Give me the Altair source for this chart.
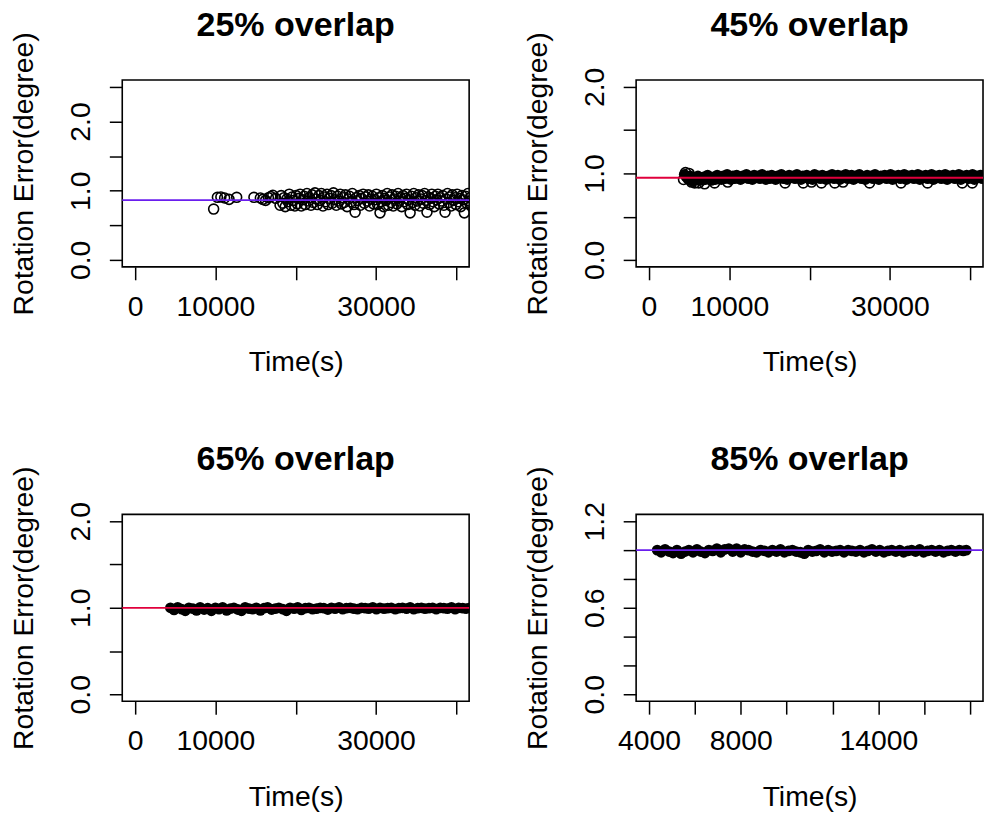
import altair as alt
import pandas as pd

FONT = "Liberation Sans"

# ---------------- data ----------------
titles = ["25% overlap", "45% overlap", "65% overlap", "85% overlap"]
mean_err = [0.865, 0.95, 1.0, 1.0]
line_colors = ["#6A1EEE", "#E0003C", "#E0003C", "#6A1EEE"]

p1_t = [9780, 10250, 10680, 11150, 11700, 12650, 14800, 15600, 15900, 16250,
        16600, 16900, 17150, 17500, 18050, 18200, 18400, 18550, 18700, 18900,
        19050, 19200, 19400, 19550, 19700, 19900, 20050, 20200, 20400, 20550,
        20700, 20900, 21050, 21200, 21400, 21550, 21700, 21900, 22050, 22200,
        22400, 22550, 22700, 22900, 23050, 23200, 23400, 23550, 23700, 23900,
        24050, 24200, 24400, 24550, 24700, 24900, 25050, 25200, 25400, 25550,
        25700, 25900, 26050, 26200, 26400, 26550, 26700, 26900, 27050, 27250,
        27400, 27550, 27700, 27900, 28050, 28200, 28400, 28550, 28700, 28900,
        29050, 29200, 29400, 29550, 29700, 29900, 30050, 30200, 30350, 30500,
        30650, 30800, 30950, 31100, 31250, 31400, 31550, 31700, 31850, 32000,
        32150, 32300, 32450, 32600, 32750, 32900, 33050, 33200, 33350, 33500,
        33650, 33800, 33950, 34100, 34250, 34400, 34550, 34700, 34850, 35000,
        35150, 35300, 35450, 35600, 35750, 35900, 36050, 36200, 36350, 36500,
        36650, 36800, 36950, 37100, 37250, 37400, 37550, 37700, 37850, 38000,
        38150, 38300, 38450, 38600, 38750, 38900, 39050, 39200, 39350, 39500,
        39650, 39800, 39950, 40100, 40250, 40400, 40550, 40700, 40850, 41000,
        41150, 41300, 41450, 41600, 41750, 41900]
p1_err = [0.735, 0.905, 0.91, 0.895, 0.875, 0.905, 0.905, 0.895, 0.875, 0.86,
          0.90, 0.915, 0.935, 0.89, 0.79, 0.93, 0.82, 0.90, 0.77, 0.88,
          0.84, 0.95, 0.79, 0.91, 0.86, 0.78, 0.93, 0.81, 0.89, 0.95,
          0.78, 0.87, 0.92, 0.80, 0.96, 0.85, 0.90, 0.79, 0.94, 0.83,
          0.97, 0.88, 0.80, 0.93, 0.86, 0.96, 0.78, 0.91, 0.84, 0.95,
          0.80, 0.89, 0.93, 0.82, 0.97, 0.87, 0.79, 0.92, 0.85, 0.95,
          0.81, 0.90, 0.83, 0.94, 0.77, 0.88, 0.92, 0.84, 0.96, 0.80,
          0.69, 0.90, 0.86, 0.93, 0.79, 0.89, 0.95, 0.82, 0.91, 0.85,
          0.94, 0.78, 0.88, 0.92, 0.81, 0.87, 0.95, 0.80, 0.90, 0.68,
          0.84, 0.93, 0.77, 0.89, 0.86, 0.96, 0.79, 0.91, 0.83, 0.94,
          0.78, 0.88, 0.92, 0.81, 0.96, 0.85, 0.90, 0.77, 0.93, 0.84,
          0.89, 0.95, 0.80, 0.87, 0.68, 0.92, 0.83, 0.96, 0.79, 0.90,
          0.85, 0.94, 0.78, 0.88, 0.93, 0.82, 0.96, 0.86, 0.69, 0.91,
          0.80, 0.89, 0.95, 0.84, 0.77, 0.92, 0.87, 0.95, 0.81, 0.90,
          0.85, 0.93, 0.79, 0.69, 0.88, 0.96, 0.83, 0.91, 0.78, 0.94,
          0.86, 0.90, 0.80, 0.95, 0.84, 0.89, 0.77, 0.93, 0.87, 0.68,
          0.92, 0.82, 0.96, 0.85, 0.90, 0.79]

# 45%: dense band (drawn solid) and the sparse points around it (open)
p2_band_t = [4400, 4620, 4900, 5150, 5380, 5600, 5870, 6100, 6350, 6590,
             6800, 7060, 7300, 7550, 7780, 8020, 8270, 8500, 8760, 9000,
             9240, 9480, 9730, 9960, 10200, 10450, 10690, 10920, 11170, 11400,
             11660, 11900, 12140, 12380, 12620, 12870, 13100, 13350, 13590, 13820,
             14080, 14310, 14560, 14800, 15040, 15280, 15530, 15770, 16000, 16250,
             16490, 16730, 16970, 17220, 17460, 17700, 17950, 18190, 18430, 18670,
             18920, 19160, 19400, 19650, 19890, 20130, 20370, 20620, 20860, 21100,
             21350, 21590, 21830, 22070, 22320, 22560, 22800, 23050, 23290, 23530,
             23770, 24020, 24260, 24500, 24750, 24990, 25230, 25470, 25720, 25960,
             26200, 26450, 26690, 26930, 27170, 27420, 27660, 27900, 28150, 28390,
             28630, 28870, 29120, 29360, 29600, 29850, 30090, 30330, 30570, 30820,
             31060, 31300, 31550, 31790, 32030, 32270, 32520, 32760, 33000, 33250,
             33490, 33730, 33970, 34220, 34460, 34700, 34950, 35190, 35430, 35670,
             35920, 36160, 36400, 36650, 36890, 37130, 37370, 37620, 37860, 38100,
             38350, 38590, 38830, 39070, 39320, 39560, 39800, 40050, 40290, 40530,
             40770, 41020, 41260, 41500, 41750, 41990]
p2_band_err = [0.99, 0.96, 0.93, 0.97, 0.91, 0.95, 0.92, 0.97, 0.94, 0.92,
               0.96, 0.93, 0.98, 0.94, 0.92, 0.96, 0.93, 0.98, 0.95, 0.93,
               0.97, 0.94, 0.99, 0.95, 0.93, 0.97, 0.94, 0.98, 0.96, 0.93,
               0.97, 0.95, 0.99, 0.94, 0.96, 0.93, 0.98, 0.95, 0.97, 0.94,
               0.99, 0.95, 0.93, 0.97, 0.94, 0.98, 0.96, 0.93, 0.97, 0.95,
               0.99, 0.94, 0.96, 0.93, 0.98, 0.95, 0.97, 0.94, 0.99, 0.96,
               0.93, 0.97, 0.95, 0.98, 0.94, 0.96, 0.93, 0.99, 0.95, 0.97,
               0.94, 0.98, 0.96, 0.93, 0.97, 0.95, 0.99, 0.94, 0.96, 0.98,
               0.93, 0.97, 0.95, 0.99, 0.94, 0.96, 0.98, 0.93, 0.97, 0.95,
               0.99, 0.94, 0.96, 0.93, 0.98, 0.95, 0.97, 0.94, 0.99, 0.96,
               0.93, 0.97, 0.95, 0.98, 0.94, 0.96, 0.99, 0.93, 0.97, 0.95,
               0.98, 0.94, 0.96, 0.99, 0.93, 0.97, 0.95, 0.98, 0.94, 0.96,
               0.99, 0.93, 0.97, 0.95, 0.98, 0.94, 0.96, 0.99, 0.93, 0.97,
               0.95, 0.98, 0.94, 0.96, 0.99, 0.93, 0.97, 0.95, 0.98, 0.94,
               0.96, 0.99, 0.93, 0.97, 0.95, 0.98, 0.94, 0.96, 0.99, 0.93,
               0.97, 0.95, 0.98, 0.94, 0.96, 0.99]
p2_sparse_t = [5690, 6930, 8170, 9810, 16950, 19210, 20240, 21480, 23140, 24170,
               27470, 31390, 34690, 39020, 40260, 4550, 5000, 4300, 5300, 6200]
p2_sparse_err = [0.89, 0.88, 0.89, 0.90, 0.89, 0.89, 0.90, 0.89, 0.89, 0.90,
                 0.89, 0.89, 0.89, 0.89, 0.89, 1.01, 1.00, 0.93, 0.90, 0.89]

p3_t = [4400, 4850, 5300, 5800, 6250, 6700, 7200, 7650, 8100, 8600,
        9050, 9500, 10000, 10450, 10900, 11400, 11850, 12300, 12800, 13250,
        13700, 14200, 14650, 15100, 15600, 16050, 16500, 17000, 17450, 17900,
        18400, 18850, 19300, 19800, 20250, 20700, 21200, 21650, 22100, 22600,
        23050, 23500, 24000, 24450, 24900, 25400, 25850, 26300, 26800, 27250,
        27700, 28200, 28650, 29100, 29600, 30050, 30500, 31000, 31450, 31900,
        32400, 32850, 33300, 33800, 34250, 34700, 35200, 35650, 36100, 36600,
        37050, 37500, 38000, 38450, 38900, 39400, 39850, 40300, 40800, 41250,
        41700, 42100]
p3_err = [1.0, 0.975, 1.005, 0.985, 0.965, 1.0, 0.99, 0.97, 1.005, 0.98,
          0.995, 0.965, 1.0, 0.985, 1.005, 0.97, 0.99, 1.0, 0.98, 0.965,
          1.005, 0.99, 0.985, 1.0, 0.97, 0.995, 1.005, 0.98, 0.99, 1.0,
          0.985, 0.965, 1.0, 0.99, 1.005, 0.975, 0.995, 1.0, 0.985, 0.99,
          1.0, 0.995, 0.98, 1.0, 0.99, 1.005, 0.985, 0.995, 1.0, 0.99,
          0.985, 1.0, 0.995, 0.99, 1.005, 0.985, 1.0, 0.99, 0.995, 1.0,
          0.985, 0.995, 1.0, 0.99, 1.005, 0.985, 0.995, 1.0, 0.99, 0.995,
          1.0, 0.985, 1.0, 0.995, 0.99, 1.005, 0.985, 1.0, 0.995, 0.99,
          1.0, 0.995]

p4_t = [4360, 4530, 4700, 4880, 5050, 5220, 5400, 5570, 5740, 5920,
        6090, 6260, 6440, 6610, 6780, 6960, 7130, 7300, 7480, 7650,
        7820, 8000, 8170, 8340, 8520, 8690, 8860, 9040, 9210, 9380,
        9560, 9730, 9900, 10080, 10250, 10420, 10600, 10770, 10940, 11120,
        11290, 11460, 11640, 11810, 11980, 12160, 12330, 12500, 12680, 12850,
        13020, 13200, 13370, 13540, 13720, 13890, 14060, 14240, 14410, 14580,
        14760, 14930, 15100, 15280, 15450, 15620, 15800, 15970, 16140, 16320,
        16490, 16660, 16840, 17010, 17180, 17360, 17530, 17700, 17830]
p4_err = [1.0, 0.985, 1.005, 0.99, 0.98, 1.0, 0.975, 0.99, 1.0, 0.985,
          1.005, 0.99, 0.98, 1.0, 0.995, 1.01, 0.985, 1.005, 1.01, 0.99,
          1.01, 0.985, 1.005, 1.0, 0.99, 0.985, 1.0, 0.995, 0.985, 1.0,
          0.99, 1.005, 0.985, 0.995, 1.0, 0.99, 0.985, 0.975, 1.0, 0.99,
          0.995, 1.005, 0.985, 1.0, 0.99, 0.995, 1.0, 0.985, 1.0, 0.995,
          0.99, 1.0, 0.985, 0.995, 1.005, 0.99, 1.0, 0.985, 0.995, 1.0,
          0.99, 1.0, 0.985, 0.995, 1.0, 0.99, 1.005, 0.985, 0.995, 1.0,
          0.99, 1.0, 0.985, 0.995, 1.0, 0.99, 1.0, 0.995, 1.0]

# axis ticks / labels (R style: labels that would overlap are skipped)
x_ticks_long = [0, 10000, 20000, 30000, 40000]
x_labels_long = [0, 10000, 30000]
x_ticks_short = [4000, 6000, 8000, 10000, 12000, 14000, 16000, 18000]
x_labels_short = [4000, 8000, 14000]
y_ticks_25 = [0, 0.5, 1.0, 1.5, 2.0, 2.5]
y_ticks_20 = [0, 0.5, 1.0, 1.5, 2.0]
y_labels_20 = [0, 1.0, 2.0]
y_ticks_12 = [0, 0.2, 0.4, 0.6, 0.8, 1.0, 1.2]
y_labels_12 = [0, 0.6, 1.2]

W, H = 349, 188
FS = 28.5
SIZE_OPEN = 100
SIZE_SOLID = 118
TITLE_OFFSET = -38


def only(vals):
    cond = " || ".join(f"datum.value == {v}" for v in vals)
    return f"({cond}) ? datum.label : ''"


def encodings(xdom, xticks, xlabels, ydom, yticks, ylabels):
    common = dict(domain=False, grid=False, ticks=True, tickSize=13, tickWidth=1.5,
                  tickColor="black", labelFont=FONT, labelFontSize=FS, labelColor="black",
                  labelOverlap=False, labelFlush=False, labelBound=False,
                  titleFont=FONT, titleFontSize=FS, titleFontWeight="normal",
                  titleColor="black", titleAlign="center", titleBaseline="alphabetic")
    x = alt.X("t:Q", title="Time(s)",
              scale=alt.Scale(domain=xdom, nice=False, zero=False),
              axis=alt.Axis(values=xticks, format="d", labelExpr=only(xlabels),
                            labelAngle=0, labelAlign="center", labelBaseline="alphabetic",
                            labelPadding=36, titleX=W / 2, titleY=104.7, **common))
    y = alt.Y("err:Q", title="Rotation Error(degree)",
              scale=alt.Scale(domain=ydom, nice=False, zero=False),
              axis=alt.Axis(values=yticks, format=".1f", labelExpr=only(ylabels),
                            labelAngle=270, labelAlign="center", labelBaseline="alphabetic",
                            labelPadding=20, titleAngle=270, titleX=-90.3, titleY=H / 2,
                            **common))
    return x, y


def points(t, err, filled, x, y):
    df = pd.DataFrame({"t": t, "err": err})
    return alt.Chart(df).mark_point(shape="circle", filled=filled,
                                    size=SIZE_SOLID if filled else SIZE_OPEN,
                                    strokeWidth=1.6, color="black", opacity=1,
                                    clip=True).encode(x=x, y=y)


def panel(title, layers_pts, mean, color, y):
    rule = alt.Chart(pd.DataFrame({"err": [mean]})).mark_rule(
        color=color, strokeWidth=1.8).encode(y=y)
    return alt.layer(*layers_pts, rule).properties(
        width=W, height=H,
        title=alt.TitleParams(text=title, font=FONT, fontSize=34.2, fontWeight="bold",
                              color="black", anchor="middle", frame="group",
                              baseline="alphabetic", offset=TITLE_OFFSET))


XL = [-1600, 41600]
XS = [3440, 18560]

x1, y1 = encodings(XL, x_ticks_long, x_labels_long, [-0.1, 2.6], y_ticks_25, y_labels_20)
c1 = panel(titles[0], [points(p1_t, p1_err, False, x1, y1)], mean_err[0], line_colors[0], y1)

x2, y2 = encodings(XL, x_ticks_long, x_labels_long, [-0.08, 2.08], y_ticks_20, y_labels_20)
c2 = panel(titles[1], [points(p2_band_t, p2_band_err, True, x2, y2),
                       points(p2_sparse_t, p2_sparse_err, False, x2, y2)],
           mean_err[1], line_colors[1], y2)

x3, y3 = encodings(XL, x_ticks_long, x_labels_long, [-0.08, 2.08], y_ticks_20, y_labels_20)
c3 = panel(titles[2], [points(p3_t, p3_err, True, x3, y3)], mean_err[2], line_colors[2], y3)

x4, y4 = encodings(XS, x_ticks_short, x_labels_short, [-0.048, 1.248], y_ticks_12, y_labels_12)
c4 = panel(titles[3], [points(p4_t, p4_err, True, x4, y4)], mean_err[3], line_colors[3], y4)

chart = alt.concat(c1, c2, c3, c4, columns=2, spacing={"row": 249, "column": 168},
                   bounds="flush").properties(
    padding={"left": 8, "top": 5, "right": 0, "bottom": 0},
    background="white",
).configure_view(stroke="black", strokeWidth=1.6)

chart.save("out.html", embed_options={"renderer": "svg", "actions": False})
